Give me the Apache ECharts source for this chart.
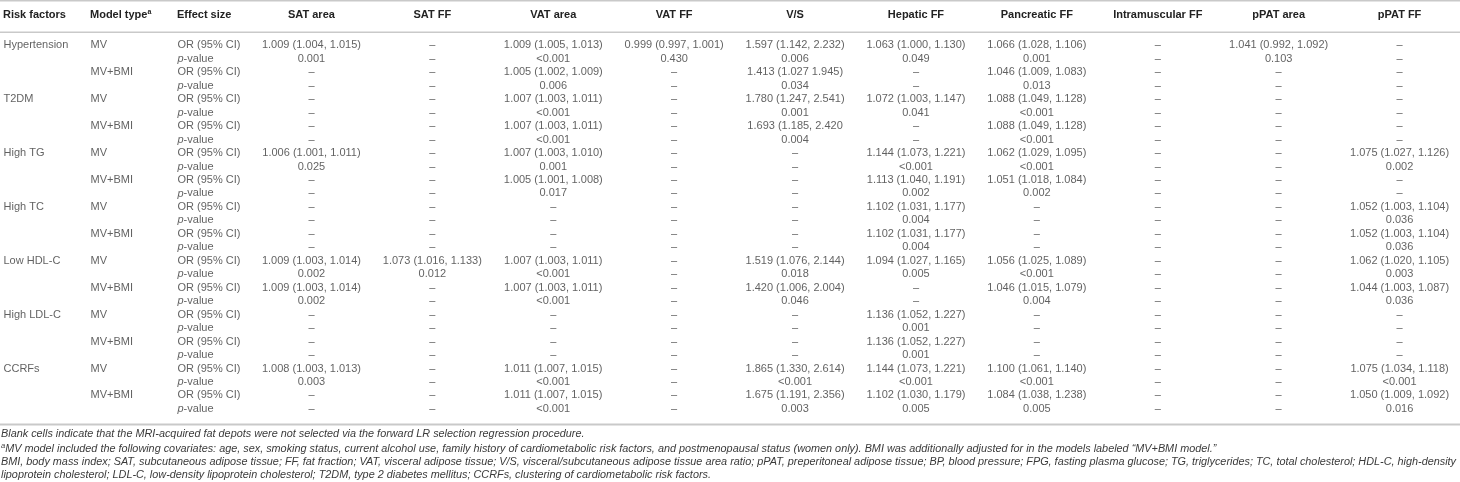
<!DOCTYPE html>
<html>
<head>
<meta charset="utf-8">
<style>
  html, body { margin: 0; padding: 0; background: #fff; }
  #main { width: 1460px; height: 482px; }
</style>
<script src="https://cdn.jsdelivr.net/npm/echarts@6/dist/echarts.min.js"></script>
</head>
<body>
<div id="main"></div>
<script>
const D = "–";

const riskFactors = ["Hypertension", "T2DM", "High TG", "High TC", "Low HDL-C", "High LDL-C", "CCRFs"];
const modelTypes = ["MV", "MV+BMI"];
const effectSizes = ["OR (95% CI)", "{i|p}-value"];
const leftHeaders = ["Risk factors", "Model type{sup|a}", "Effect size"];
const depotHeaders = ["SAT area", "SAT FF", "VAT area", "VAT FF", "V/S", "Hepatic FF",
  "Pancreatic FF", "Intramuscular FF", "pPAT area", "pPAT FF"];

// 28 rows: 7 risk factors x 2 models x (OR, p-value)
const satArea = ["1.009 (1.004, 1.015)", "0.001", D, D, D, D, D, D,
  "1.006 (1.001, 1.011)", "0.025", D, D, D, D, D, D,
  "1.009 (1.003, 1.014)", "0.002", "1.009 (1.003, 1.014)", "0.002", D, D, D, D,
  "1.008 (1.003, 1.013)", "0.003", D, D];
const satFF = [D, D, D, D, D, D, D, D, D, D, D, D, D, D, D, D,
  "1.073 (1.016, 1.133)", "0.012", D, D, D, D, D, D, D, D, D, D];
const vatArea = ["1.009 (1.005, 1.013)", "<0.001", "1.005 (1.002, 1.009)", "0.006",
  "1.007 (1.003, 1.011)", "<0.001", "1.007 (1.003, 1.011)", "<0.001",
  "1.007 (1.003, 1.010)", "0.001", "1.005 (1.001, 1.008)", "0.017", D, D, D, D,
  "1.007 (1.003, 1.011)", "<0.001", "1.007 (1.003, 1.011)", "<0.001", D, D, D, D,
  "1.011 (1.007, 1.015)", "<0.001", "1.011 (1.007, 1.015)", "<0.001"];
const vatFF = ["0.999 (0.997, 1.001)", "0.430", D, D, D, D, D, D, D, D, D, D, D, D,
  D, D, D, D, D, D, D, D, D, D, D, D, D, D];
const vsRatio = ["1.597 (1.142, 2.232)", "0.006", "1.413 (1.027 1.945)", "0.034",
  "1.780 (1.247, 2.541)", "0.001", "1.693 (1.185, 2.420", "0.004", D, D, D, D, D, D, D, D,
  "1.519 (1.076, 2.144)", "0.018", "1.420 (1.006, 2.004)", "0.046", D, D, D, D,
  "1.865 (1.330, 2.614)", "<0.001", "1.675 (1.191, 2.356)", "0.003"];
const hepaticFF = ["1.063 (1.000, 1.130)", "0.049", D, D, "1.072 (1.003, 1.147)", "0.041", D, D,
  "1.144 (1.073, 1.221)", "<0.001", "1.113 (1.040, 1.191)", "0.002",
  "1.102 (1.031, 1.177)", "0.004", "1.102 (1.031, 1.177)", "0.004",
  "1.094 (1.027, 1.165)", "0.005", D, D, "1.136 (1.052, 1.227)", "0.001",
  "1.136 (1.052, 1.227)", "0.001", "1.144 (1.073, 1.221)", "<0.001",
  "1.102 (1.030, 1.179)", "0.005"];
const pancreaticFF = ["1.066 (1.028, 1.106)", "0.001", "1.046 (1.009, 1.083)", "0.013",
  "1.088 (1.049, 1.128)", "<0.001", "1.088 (1.049, 1.128)", "<0.001",
  "1.062 (1.029, 1.095)", "<0.001", "1.051 (1.018, 1.084)", "0.002", D, D, D, D,
  "1.056 (1.025, 1.089)", "<0.001", "1.046 (1.015, 1.079)", "0.004", D, D, D, D,
  "1.100 (1.061, 1.140)", "<0.001", "1.084 (1.038, 1.238)", "0.005"];
const intramuscularFF = [D, D, D, D, D, D, D, D, D, D, D, D, D, D, D, D, D, D, D, D,
  D, D, D, D, D, D, D, D];
const ppatArea = ["1.041 (0.992, 1.092)", "0.103", D, D, D, D, D, D, D, D, D, D, D, D,
  D, D, D, D, D, D, D, D, D, D, D, D, D, D];
const ppatFF = [D, D, D, D, D, D, D, D, "1.075 (1.027, 1.126)", "0.002", D, D,
  "1.052 (1.003, 1.104)", "0.036", "1.052 (1.003, 1.104)", "0.036",
  "1.062 (1.020, 1.105)", "0.003", "1.044 (1.003, 1.087)", "0.036", D, D, D, D,
  "1.075 (1.034, 1.118)", "<0.001", "1.050 (1.009, 1.092)", "0.016"];

const depotColumns = [satArea, satFF, vatArea, vatFF, vsRatio, hepaticFF,
  pancreaticFF, intramuscularFF, ppatArea, ppatFF];

const footnotes = [
  "Blank cells indicate that the MRI-acquired fat depots were not selected via the forward LR selection regression procedure.",
  "{sup|a}MV model included the following covariates: age, sex, smoking status, current alcohol use, family history of cardiometabolic risk factors, and postmenopausal status (women only). BMI was additionally adjusted for in the models labeled “MV+BMI model.”",
  "BMI, body mass index; SAT, subcutaneous adipose tissue; FF, fat fraction; VAT, visceral adipose tissue; V/S, visceral/subcutaneous adipose tissue area ratio; pPAT, preperitoneal adipose tissue; BP, blood pressure; FPG, fasting plasma glucose; TG, triglycerides; TC, total cholesterol; HDL-C, high-density",
  "lipoprotein cholesterol; LDL-C, low-density lipoprotein cholesterol; T2DM, type 2 diabetes mellitus; CCRFs, clustering of cardiometabolic risk factors."
];

const FONT = "'Liberation Sans', Arial, Helvetica, sans-serif";
const rowIds = riskFactors.flatMap((r, i) => [0, 1, 2, 3].map(k => String(i * 4 + k)));

// left text block: risk factor / model / effect size
const leftData = [];
rowIds.forEach((id, r) => {
  if (r % 4 === 0) leftData.push({ value: [leftHeaders[0], id], text: riskFactors[r / 4] });
  if (r % 2 === 0) leftData.push({ value: [leftHeaders[1], id], text: modelTypes[(r / 2) % 2] });
  leftData.push({ value: [leftHeaders[2], id], text: effectSizes[r % 2] });
});

const cellLabel = {
  show: true,
  fontFamily: FONT,
  fontSize: 11,
  color: "#3a3a3a",
  formatter: p => p.data.text,
  rich: {
    i: { fontFamily: FONT, fontSize: 11, color: "#3a3a3a", fontStyle: "italic" }
  }
};

const headerLabel = {
  show: true,
  fontFamily: FONT,
  fontSize: 11,
  fontWeight: "bold",
  color: "#222",
  verticalAlign: "middle",
  margin: 24,
  rich: {
    sup: { fontFamily: FONT, fontSize: 7, fontWeight: "bold", color: "#222", verticalAlign: "top", padding: [0, 0, 6, 0] }
  }
};

const gridTop = 38.6;
const gridHeight = 377;

const series = [{
  type: "scatter",
  xAxisIndex: 0,
  yAxisIndex: 0,
  symbolSize: 1,
  itemStyle: { color: "transparent" },
  silent: true,
  label: Object.assign({}, cellLabel, { position: "right", distance: 0 }),
  data: leftData
}].concat(depotColumns.map((col, c) => ({
  type: "scatter",
  name: depotHeaders[c],
  xAxisIndex: 1,
  yAxisIndex: 1,
  symbolSize: 1,
  itemStyle: { color: "transparent" },
  silent: true,
  label: Object.assign({}, cellLabel, { position: "inside" }),
  data: col.map((t, r) => ({ value: [depotHeaders[c], rowIds[r]], text: t }))
})));

const rule = (y, h) => ({
  type: "rect",
  left: 0,
  top: y,
  shape: { width: 1460, height: h },
  style: { fill: "#c9c9c9" },
  silent: true
});

const chart = echarts.init(document.getElementById("main"), null, { renderer: "canvas" });
chart.setOption({
  animation: false,
  backgroundColor: "#ffffff",
  grid: [
    { left: 0, width: 177, top: gridTop, height: gridHeight },
    { left: 251, width: 1221, top: gridTop, height: gridHeight }
  ],
  xAxis: [
    {
      type: "category", gridIndex: 0, position: "top", boundaryGap: false,
      data: leftHeaders,
      axisLine: { show: false }, axisTick: { show: false }, splitLine: { show: false },
      axisLabel: Object.assign({}, headerLabel, { align: "left", interval: 0 })
    },
    {
      type: "category", gridIndex: 1, position: "top", boundaryGap: true,
      data: depotHeaders,
      axisLine: { show: false }, axisTick: { show: false }, splitLine: { show: false },
      axisLabel: Object.assign({}, headerLabel, { interval: 0 })
    }
  ],
  yAxis: [0, 1].map(g => ({
    type: "category", gridIndex: g, inverse: true, data: rowIds,
    axisLine: { show: false }, axisTick: { show: false }, axisLabel: { show: false },
    splitLine: { show: false }
  })),
  series: series,
  graphic: [
    rule(0, 1.5),
    rule(31.5, 1.5),
    rule(423.5, 2)
  ].concat(footnotes.map((t, i) => ({
    type: "text",
    left: 1,
    top: 428.8 + i * 13.6,
    silent: true,
    style: {
      text: t,
      fontFamily: FONT,
      fontSize: 10.85,
      fontStyle: "italic",
      fill: "#3a3a3a",
      rich: {
        sup: { fontFamily: FONT, fontSize: 7.5, fontStyle: "italic", fill: "#3a3a3a", verticalAlign: "top", padding: [0, 0, 5, 0] }
      }
    }
  })))
});
</script>
</body>
</html>
